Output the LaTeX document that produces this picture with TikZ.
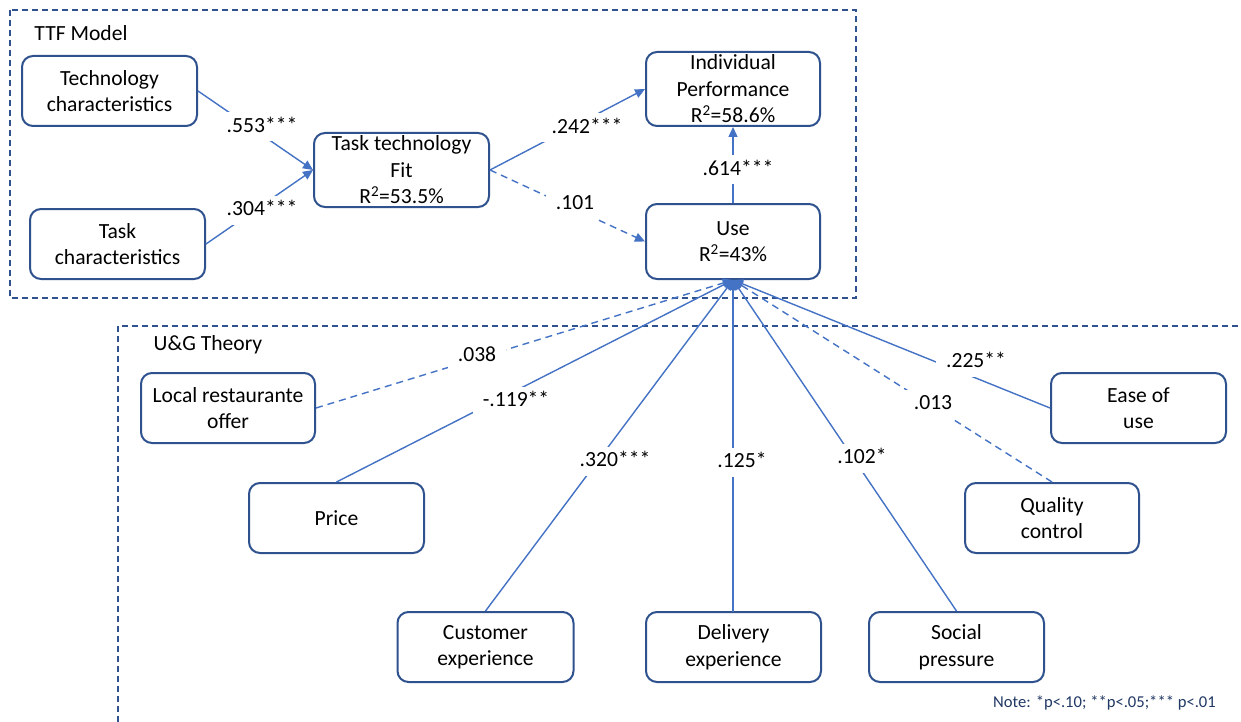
\documentclass[tikz,border=0pt]{standalone}
\usepackage{fontspec}
\setmainfont{Carlito}
\usetikzlibrary{arrows.meta}
\definecolor{boxblue}{HTML}{2F528F}
\definecolor{lineblue}{HTML}{4472C4}
\definecolor{notecol}{HTML}{203864}
\tikzset{
  mbox/.style={draw=boxblue, line width=2pt, rounded corners=11pt, align=center, inner sep=0pt,
    font=\fontsize{21.6}{26.5}\selectfont, minimum width=175pt, minimum height=70pt},
  lbl/.style={fill=white, inner xsep=10pt, inner ysep=5pt, font=\fontsize{21.6}{26.5}\selectfont,
    text height=15pt, text depth=4pt},
  conn/.style={lineblue, line width=1.4pt, -{Triangle[length=10pt,width=9pt]}},
  dconn/.style={conn, dash pattern=on 7pt off 5pt},
  frame/.style={boxblue, line width=1.4pt, dash pattern=on 6pt off 4pt},
  title/.style={font=\fontsize{21.6}{26.5}\selectfont, inner sep=0pt}
}
\begin{document}
\begin{tikzpicture}[x=1pt,y=-1pt]
\useasboundingbox[fill=white] (0,0) rectangle (1241,722);
% frames
\draw[frame] (10,10) rectangle (856,298);
\draw[frame] (118,722) -- (118,326) -- (1241,326);
\node[title] (ttftitle) at (81,33) {TTF Model};
\node[title] (ugtitle) at (208,345) {U\&G Theory};
% TTF nodes
\node[mbox] (tech) at (109.5,91) {Technology\\characteristics};
\node[mbox] (task) at (117.5,244) {Task\\characteristics};
\node[mbox, minimum height=74pt] (ttf) at (401.5,170) {Task technology\\Fit\\R\textsuperscript{2}=53.5\%};
\node[mbox, minimum width=174pt, minimum height=74pt] (perf) at (733,89) {Individual\\Performance\\R\textsuperscript{2}=58.6\%};
\node[mbox, minimum width=174pt, minimum height=75pt] (use) at (733,241.5) {Use\\R\textsuperscript{2}=43\%};
% U&G nodes
\node[mbox, minimum width=174pt] (local) at (228,408) {Local restaurante\\offer};
\node[mbox] (price) at (336.5,518) {Price};
\node[mbox] (ease) at (1138.5,408) {Ease of\\use};
\node[mbox, minimum width=174pt] (quality) at (1052,518) {Quality\\control};
\node[mbox, minimum width=176pt] (cust) at (485.5,647) {Customer\\experience};
\node[mbox] (deliv) at (733.5,647) {Delivery\\experience};
\node[mbox] (social) at (956.5,647) {Social\\pressure};
% TTF connectors
\draw[conn] (tech.east) -- (ttf.west);
\draw[conn] (task.east) -- (ttf.west);
\draw[conn] (ttf.east) -- (perf.west);
\draw[dconn] (ttf.east) -- (use.west);
\draw[conn] (use.north) -- (perf.south);
% U&G connectors
\coordinate (hub) at (733,280);
\draw[dconn] (local.east) -- (hub);
\draw[conn] (price.north) -- (hub);
\draw[conn] (cust.north) -- (hub);
\draw[conn] (733,612) -- (hub);
\draw[conn] (social.north) -- (hub);
\draw[dconn] (quality.north) -- (hub);
\draw[conn] (ease.west) -- (hub);
% labels
\node[lbl] (l553) at (262,127) {.553***};
\node[lbl] (l304) at (262,210) {.304***};
\node[lbl] (l242) at (587,128) {.242***};
\node[lbl] (l101) at (575,204) {.101};
\node[lbl] (l614) at (738,170) {.614***};
\node[lbl] (l038) at (477,356) {.038};
\node[lbl] (l119) at (516,401) {-.119**};
\node[lbl] (l320) at (615,461) {.320***};
\node[lbl] (l125) at (742,462) {.125*};
\node[lbl] (l102) at (862,458) {.102*};
\node[lbl] (l013) at (933,404) {.013};
\node[lbl] (l225) at (976,362) {.225**};
\node[font=\fontsize{16.6}{19}\selectfont, text=notecol, inner sep=0pt] (note) at (1104.5,703) {Note: *p<.10; **p<.05;*** p<.01};
\end{tikzpicture}
\end{document}
